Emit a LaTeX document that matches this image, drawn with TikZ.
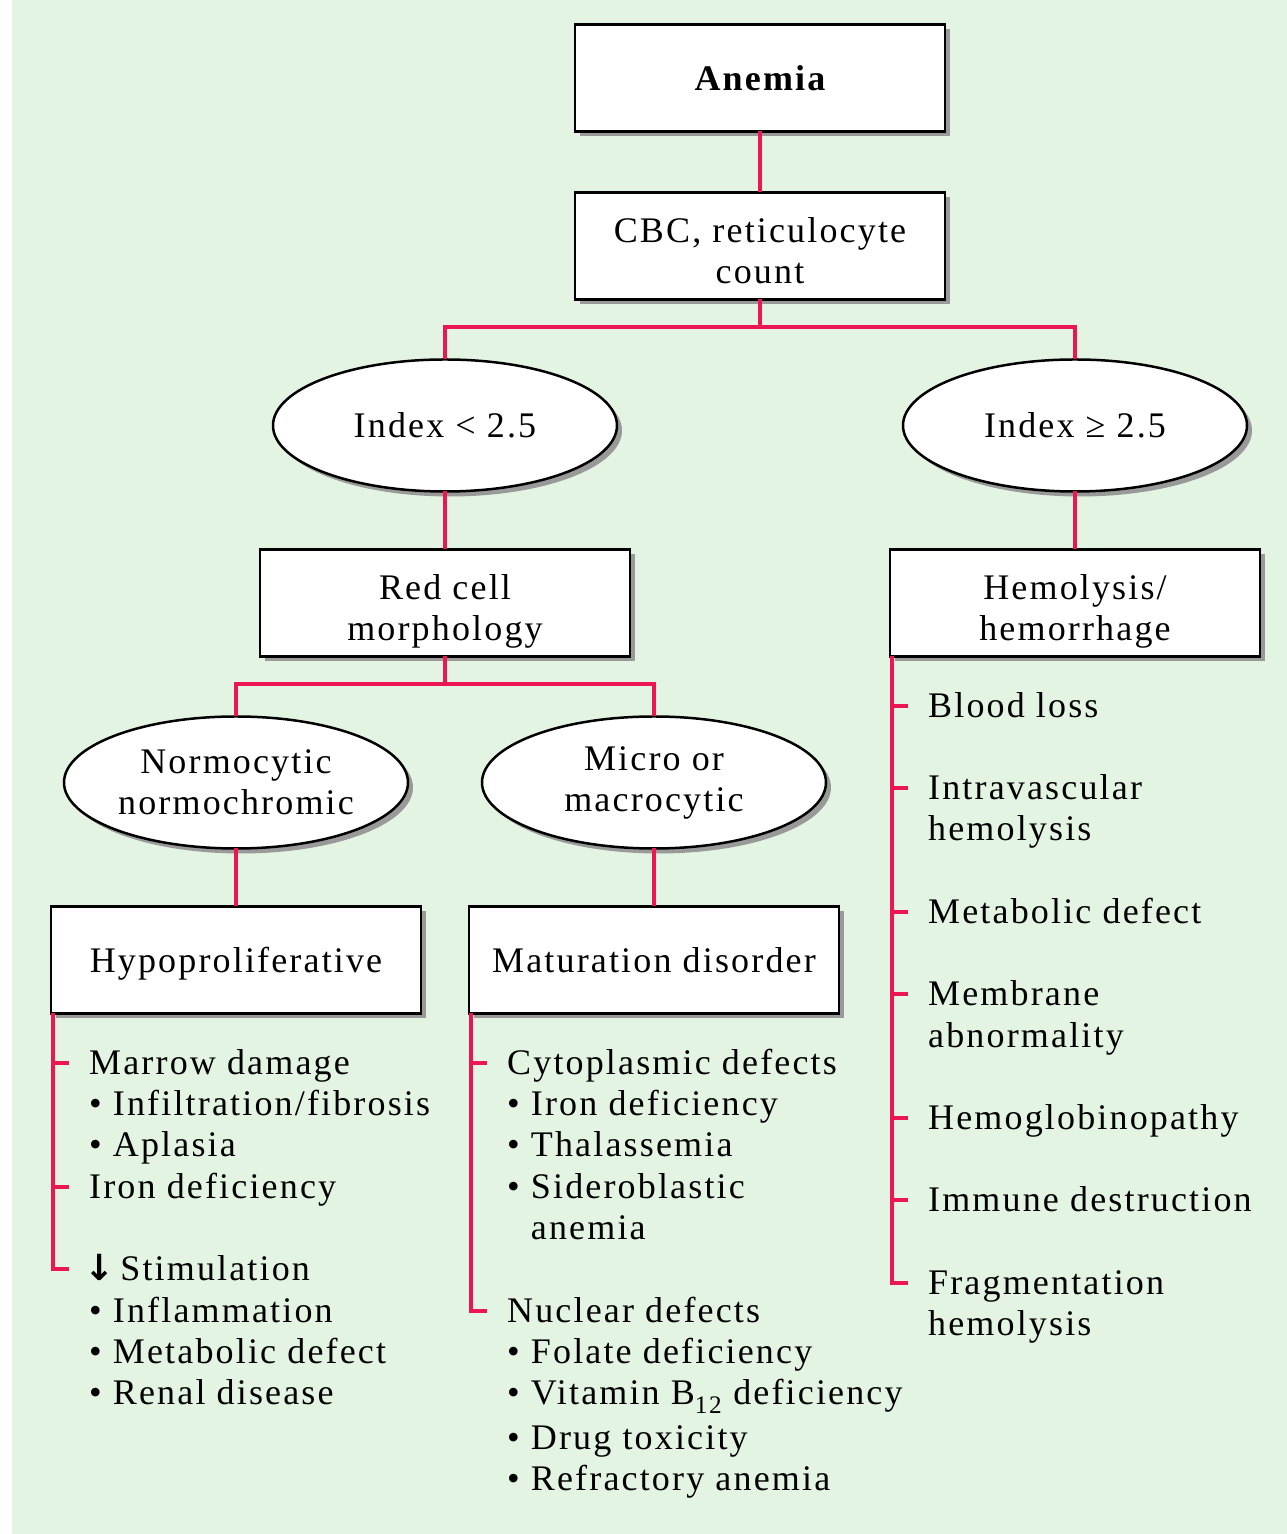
\documentclass[tikz,border=0pt]{standalone}
\usepackage{fontspec}
\setmainfont{Liberation Serif}[LetterSpace=6]
\newfontfamily\arrowfont{DejaVu Sans}
\usetikzlibrary{positioning,shapes.geometric,shadows}
\definecolor{bgreen}{RGB}{227,244,227}
\definecolor{linkred}{RGB}{235,22,82}
\tikzset{
 box/.style={draw, line width=2.5pt, fill=white, outer sep=0pt, align=center,
  minimum width=370pt, minimum height=107pt, text depth=0pt,
  drop shadow={shadow xshift=5pt, shadow yshift=-5pt, opacity=1, fill=black!40}},
 twolines/.style={text height=76pt},
 oval/.style={ellipse, draw, line width=2.5pt, fill=white, outer sep=0pt, inner sep=0pt,
  align=center, minimum width=344pt, minimum height=132pt,
  drop shadow={shadow xshift=5pt, shadow yshift=-5pt, opacity=1, fill=black!40}},
 link/.style={draw=linkred, line width=4pt},
 tickline/.style={link, shorten >=20pt},
 entry/.style={inner sep=0pt, anchor=north west, text height=32pt, text depth=9pt}
}
\begin{document}
\begin{tikzpicture}[x=1pt, y=1pt, font=\fontsize{36}{41}\selectfont]
 \useasboundingbox (0,0) rectangle (1287,1534);
 \fill[bgreen] (12,0) rectangle (1287,1534);

 \node[box, font=\fontsize{36}{41}\selectfont\bfseries] (anemia) at (760,1456) {Anemia};
 \node[box, twolines, below=61pt of anemia] (cbc) {CBC, reticulocyte\\count};
 \node[oval, below=60pt of cbc, xshift=-315pt] (low) {Index < 2.5};
 \node[oval, below=60pt of cbc, xshift=315pt] (high) {Index ≥ 2.5};
 \node[box, twolines, below=58pt of low] (redcell) {Red cell\\morphology};
 \node[box, twolines, below=58pt of high] (hemo) {Hemolysis/\\hemorrhage};
 \node[oval, below=60pt of redcell, xshift=-209pt] (normo) {Normocytic\\normochromic};
 \node[oval, below=60pt of redcell, xshift=209pt] (micro) {Micro or\\macrocytic};
 \node[box, below=58pt of normo] (hypo) {Hypoproliferative};
 \node[box, below=58pt of micro] (matur) {Maturation disorder};
 \coordinate[below=28pt of cbc] (fork1);
 \coordinate[below=28pt of redcell] (fork2);

 \draw[link] (anemia) -- (cbc);
 \draw[link] (cbc) -- (fork1);
 \draw[link] (low) |- (fork1) -| (high);
 \draw[link] (low) -- (redcell);
 \draw[link] (high) -- (hemo);
 \draw[link] (redcell) -- (fork2);
 \draw[link] (normo) |- (fork2) -| (micro);
 \draw[link] (normo) -- (hypo);
 \draw[link] (micro) -- (matur);

 % hypoproliferative causes
 \node[entry, below right=28.5pt and 38pt of hypo.south west] (marrow) {Marrow damage};
 \node[entry] (infil) at (marrow.south west) {\textbullet\ Infiltration/fibrosis};
 \node[entry] (aplasia) at (infil.south west) {\textbullet\ Aplasia};
 \node[entry] (ironL) at (aplasia.south west) {Iron deficiency};
 \node[entry] (stim) at ([yshift=-41pt]ironL.south west) {\hspace{-5pt}{\arrowfont\bfseries ↓}\,Stimulation};
 \node[entry] (inflam) at (stim.south west) {\textbullet\ Inflammation};
 \node[entry] (metabL) at (inflam.south west) {\textbullet\ Metabolic defect};
 \node[entry] (renal) at (metabL.south west) {\textbullet\ Renal disease};
 \draw[tickline] ([xshift=1.5pt]hypo.south west) |- (marrow);
 \draw[tickline] ([xshift=1.5pt]hypo.south west) |- (ironL);
 \draw[tickline] ([xshift=1.5pt]hypo.south west) |- (stim);

 % maturation causes
 \node[entry, below right=28.5pt and 38pt of matur.south west] (cyto) {Cytoplasmic defects};
 \node[entry] (ironM) at (cyto.south west) {\textbullet\ Iron deficiency};
 \node[entry] (thal) at (ironM.south west) {\textbullet\ Thalassemia};
 \node[entry] (sidero) at (thal.south west) {\textbullet\ Sideroblastic};
 \node[entry] (sidero2) at (sidero.south west) {\hphantom{\textbullet\ }anemia};
 \node[entry] (nuclear) at ([yshift=-41pt]sidero2.south west) {Nuclear defects};
 \node[entry] (folate) at (nuclear.south west) {\textbullet\ Folate deficiency};
 \node[entry, text depth=12pt] (vitb) at (folate.south west) {\textbullet\ Vitamin B\textsubscript{12} deficiency};
 \node[entry] (drug) at (vitb.south west) {\textbullet\ Drug toxicity};
 \node[entry] (refract) at (drug.south west) {\textbullet\ Refractory anemia};
 \draw[tickline] ([xshift=1.5pt]matur.south west) |- (cyto);
 \draw[tickline] ([xshift=1.5pt]matur.south west) |- (nuclear);

 % hemolysis causes
 \node[entry, below right=28.5pt and 38pt of hemo.south west] (blood) {Blood loss};
 \node[entry] (intra) at ([yshift=-41pt]blood.south west) {Intravascular};
 \node[entry] (intra2) at (intra.south west) {hemolysis};
 \node[entry] (metabR) at ([yshift=-41pt]intra2.south west) {Metabolic defect};
 \node[entry] (membr) at ([yshift=-41pt]metabR.south west) {Membrane};
 \node[entry] (membr2) at (membr.south west) {abnormality};
 \node[entry] (hgb) at ([yshift=-41pt]membr2.south west) {Hemoglobinopathy};
 \node[entry] (immune) at ([yshift=-41pt]hgb.south west) {Immune destruction};
 \node[entry] (frag) at ([yshift=-41pt]immune.south west) {Fragmentation};
 \node[entry] (frag2) at (frag.south west) {hemolysis};
 \draw[tickline] ([xshift=1.5pt]hemo.south west) |- (blood);
 \draw[tickline] ([xshift=1.5pt]hemo.south west) |- (intra);
 \draw[tickline] ([xshift=1.5pt]hemo.south west) |- (metabR);
 \draw[tickline] ([xshift=1.5pt]hemo.south west) |- (membr);
 \draw[tickline] ([xshift=1.5pt]hemo.south west) |- (hgb);
 \draw[tickline] ([xshift=1.5pt]hemo.south west) |- (immune);
 \draw[tickline] ([xshift=1.5pt]hemo.south west) |- (frag);
\end{tikzpicture}
\end{document}
